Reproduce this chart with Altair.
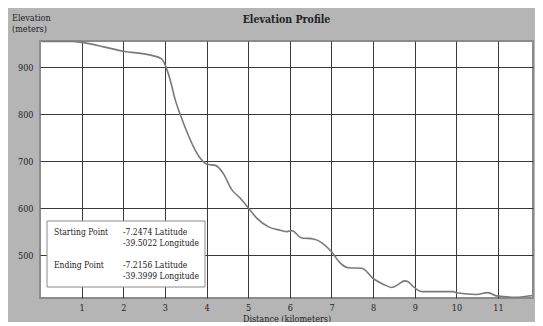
import altair as alt
import pandas as pd

# Elevation profile data (distance in km, elevation in m)
distance_km = [0.04, 0.8, 1.0, 1.56, 2.0, 2.6, 2.92, 3.02, 3.13, 3.25, 3.39, 3.53, 3.69,
               3.85, 3.97, 4.05, 4.21, 4.4, 4.6, 4.8, 5.0, 5.21, 5.49, 5.77, 5.94, 6.05,
               6.27, 6.57, 6.77, 7.01, 7.2, 7.41, 7.73, 8.0, 8.24, 8.45, 8.6, 8.75, 8.84,
               8.95, 9.1, 9.2, 9.92, 10.04, 10.48, 10.76, 10.96, 11.44, 11.76, 11.83]
elevation_m = [955, 955, 953, 943, 934, 927, 918, 902, 872, 830, 794, 762, 730,
               706, 695, 693, 691, 674, 640, 622, 601, 578, 560, 553, 550, 552,
               537, 534, 526, 506, 484, 473, 472, 450, 438, 431, 437, 445, 443,
               434, 424, 422, 422, 419, 416, 420, 413, 410, 413, 414]

x_ticks = [1, 2, 3, 4, 5, 6, 7, 8, 9, 10, 11]
y_ticks = [500, 600, 700, 800, 900]
x_domain = [0, 11.84]
y_domain = [408.5, 956]

chart_title = "Elevation Profile"
y_title = ["Elevation", "(meters)"]
legend_labels = ["Starting Point", "Ending Point"]
start_coords = ["-7.2474 Latitude", "-39.5022 Longitude"]
end_coords = ["-7.2156 Latitude", "-39.3999 Longitude"]

FONT = "DejaVu Serif Condensed"
W, H = 493, 257

df = pd.DataFrame({"distance": distance_km, "elevation": elevation_m})
one = pd.DataFrame({"k": [0]})

line = alt.Chart(df).mark_line(color="#7a7a7a", strokeWidth=1.6, interpolate="monotone").encode(
    x=alt.X("distance:Q",
            scale=alt.Scale(domain=x_domain, nice=False, zero=False),
            axis=alt.Axis(values=x_ticks, title="Distance (kilometers)", grid=True,
                          gridColor="#3a3a3a", gridWidth=1, gridOpacity=1,
                          ticks=False, domain=False,
                          labelFont=FONT, labelFontSize=9, labelColor="#222",
                          labelPadding=5,
                          titleFont=FONT, titleFontSize=9, titleFontWeight="normal",
                          titleColor="#222", titleY=23, titleBaseline="alphabetic")),
    y=alt.Y("elevation:Q",
            scale=alt.Scale(domain=y_domain, nice=False, zero=False),
            axis=alt.Axis(values=y_ticks, title=None, grid=True,
                          gridColor="#3a3a3a", gridWidth=1, gridOpacity=1,
                          ticks=False, domain=False,
                          labelFont=FONT, labelFontSize=9, labelColor="#222",
                          labelPadding=7)),
)

box = alt.Chart(one).mark_rect(fill="white", stroke="#8a8a8a", strokeWidth=1).encode(
    x=alt.value(7), x2=alt.value(165), y=alt.value(180), y2=alt.value(246)
)

def txt(t, x, y, size=8.5, weight="normal", align="left"):
    return alt.Chart(one).mark_text(
        text=t, font=FONT, fontSize=size, fontWeight=weight, color="#222", align=align,
        baseline="alphabetic", lineHeight=11
    ).encode(x=alt.value(x), y=alt.value(y))

chart = alt.layer(
    line, box,
    txt(chart_title, W / 2, -18, 10.5, "bold", "center"),
    txt(y_title, -28, -20, 9),
    txt(legend_labels[0], 14, 194), txt(start_coords, 83, 194),
    txt(legend_labels[1], 14, 227), txt(end_coords, 83, 227),
).properties(
    width=W, height=H,
    background="#b5b5b5",
    padding={"left": 32, "top": 33, "right": 2, "bottom": 24},
    autosize=alt.AutoSizeParams(type="none"),
).configure_view(fill="white", stroke="#8c8c8c", strokeWidth=2)

chart.save("out.html", embed_options={"renderer": "svg", "actions": False})
